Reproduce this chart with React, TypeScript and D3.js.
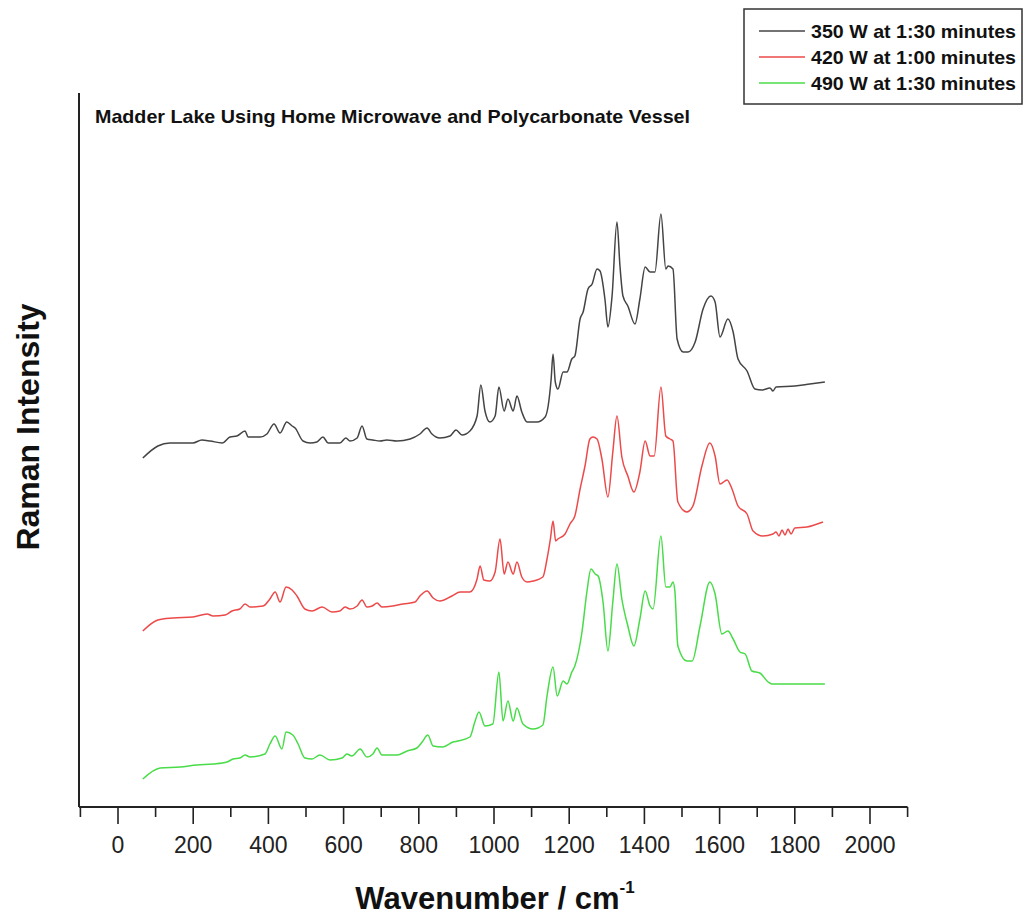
import React from "react";
import * as d3 from "d3";

// Raman spectra (wavenumber cm^-1, intensity a.u. including the stacking offset)
const series350: [number, number][] = [
  [66, 349], [106, 361], [138, 364], [199, 364], [223, 367], [245, 366], [277, 364], [298, 370],
  [316, 371], [338, 376], [346, 370], [378, 370], [396, 373], [415, 383], [431, 374], [449, 385],
  [463, 381], [471, 379], [492, 366], [511, 364], [529, 365], [545, 370], [559, 364], [590, 364],
  [606, 369], [617, 366], [636, 369], [649, 381], [662, 368], [678, 367], [697, 366], [715, 367],
  [742, 366], [777, 368], [803, 373], [822, 379], [835, 373], [856, 369], [883, 371], [899, 377],
  [915, 372], [936, 376], [955, 391], [965, 422], [976, 396], [989, 385], [1003, 391], [1013, 420],
  [1027, 396], [1037, 408], [1051, 396], [1061, 411], [1074, 395], [1088, 385], [1114, 385],
  [1136, 390], [1144, 401], [1152, 428], [1157, 453], [1163, 425], [1170, 418], [1184, 435],
  [1194, 435], [1207, 448], [1215, 451], [1229, 488], [1237, 495], [1250, 518], [1261, 523],
  [1274, 538], [1282, 536], [1295, 508], [1303, 480], [1314, 511], [1327, 585], [1335, 541],
  [1343, 511], [1356, 501], [1375, 483], [1388, 508], [1402, 540], [1415, 535], [1428, 535],
  [1444, 593], [1457, 538], [1463, 541], [1476, 538], [1487, 468], [1503, 455], [1516, 455],
  [1535, 465], [1556, 498], [1577, 511], [1588, 505], [1601, 470], [1622, 488], [1636, 475],
  [1649, 448], [1673, 436], [1694, 418], [1713, 417], [1734, 419], [1742, 416], [1750, 420],
  [1800, 421], [1840, 423], [1880, 425],
];

const series420: [number, number][] = [
  [66, 176], [106, 187], [146, 189], [199, 190], [237, 193], [253, 191], [285, 192], [303, 196],
  [324, 198], [338, 203], [351, 200], [386, 201], [404, 208], [418, 215], [431, 205], [447, 220],
  [463, 217], [476, 211], [497, 198], [516, 196], [543, 200], [569, 195], [590, 196], [604, 200],
  [617, 198], [636, 201], [649, 207], [662, 200], [676, 201], [689, 204], [702, 200], [731, 201],
  [758, 203], [790, 205], [803, 211], [822, 216], [838, 209], [856, 206], [888, 211], [910, 215],
  [936, 215], [955, 228], [963, 241], [973, 227], [989, 226], [1003, 235], [1016, 268],
  [1027, 233], [1037, 245], [1051, 233], [1061, 245], [1074, 230], [1088, 225], [1104, 226],
  [1130, 230], [1141, 248], [1150, 268], [1157, 286], [1164, 266], [1170, 268], [1189, 273],
  [1202, 283], [1215, 291], [1229, 318], [1242, 341], [1255, 368], [1263, 370], [1274, 368],
  [1287, 348], [1303, 310], [1316, 355], [1327, 391], [1340, 350], [1356, 331], [1372, 315],
  [1388, 335], [1402, 366], [1415, 351], [1426, 351], [1444, 420], [1457, 371], [1468, 368],
  [1476, 366], [1489, 305], [1513, 295], [1529, 301], [1553, 341], [1574, 364], [1588, 351],
  [1601, 323], [1620, 327], [1633, 318], [1649, 301], [1673, 293], [1689, 276], [1715, 271],
  [1742, 273], [1750, 275], [1758, 271], [1766, 277], [1774, 272], [1782, 278], [1790, 273],
  [1800, 279], [1832, 280], [1875, 285],
];

const series490: [number, number][] = [
  [66, 28], [112, 39], [165, 40], [210, 42], [253, 43], [290, 45], [306, 48], [324, 49],
  [338, 52], [351, 50], [391, 53], [404, 63], [418, 71], [436, 58], [447, 75], [465, 72],
  [479, 63], [497, 49], [516, 48], [537, 52], [564, 47], [596, 49], [609, 53], [622, 51],
  [644, 58], [662, 50], [678, 53], [689, 59], [702, 52], [742, 52], [769, 56], [795, 59],
  [809, 65], [824, 72], [838, 61], [864, 60], [891, 65], [904, 66], [936, 70], [949, 85],
  [960, 95], [976, 81], [997, 83], [1013, 135], [1024, 86], [1037, 106], [1051, 86], [1061, 99],
  [1077, 83], [1104, 78], [1130, 82], [1141, 111], [1157, 140], [1168, 111], [1184, 126],
  [1194, 123], [1207, 135], [1215, 141], [1234, 175], [1247, 215], [1258, 238], [1269, 233],
  [1277, 231], [1290, 205], [1303, 156], [1316, 205], [1327, 243], [1340, 208], [1356, 181],
  [1372, 161], [1388, 188], [1402, 216], [1415, 201], [1423, 198], [1444, 271], [1457, 220],
  [1468, 220], [1476, 225], [1481, 216], [1489, 161], [1513, 146], [1527, 146], [1548, 181],
  [1574, 225], [1588, 213], [1606, 173], [1622, 176], [1636, 168], [1654, 155], [1668, 153],
  [1686, 136], [1707, 134], [1729, 125], [1739, 123], [1880, 123],
];

const seriesNames = ["350 W at 1:30 minutes", "420 W at 1:00 minutes", "490 W at 1:30 minutes"];
const seriesColors = ["#444444", "#ec4a4a", "#48dc48"];
const allSeries = [series350, series420, series490];

const majorTicks = [0, 200, 400, 600, 800, 1000, 1200, 1400, 1600, 1800, 2000];
const minorTicks = [-100, 100, 300, 500, 700, 900, 1100, 1300, 1500, 1700, 1900, 2100];

const chartTitle = "Madder Lake Using Home Microwave and Polycarbonate Vessel";
const xTitle = "Wavenumber / cm";
const yTitle = "Raman Intensity";

export default function App() {
  const W = 1027;
  const H = 917;
  const x = d3.scaleLinear().domain([-100, 2100]).range([79, 907.6]);
  const xs = d3.scaleLinear().domain([0, 2000]).range([118, 870]);
  const y = d3.scaleLinear().domain([0, 714]).range([807, 93]);
  const line = d3
    .line<[number, number]>()
    .x((d) => xs(d[0]))
    .y((d) => y(d[1]))
    .curve(d3.curveMonotoneX);

  const axisY = y(0);
  const font = "'Liberation Sans', Arial, Helvetica, sans-serif";

  return (
    <svg
      width={W}
      height={H}
      style={{ position: "absolute", left: 0, top: 0, background: "#fff" }}
      fontFamily={font}
    >
      {/* axes */}
      <line x1={x(-100)} x2={x(-100)} y1={y(714)} y2={axisY} stroke="#222" strokeWidth={2} />
      <line x1={x(-100)} x2={x(2100)} y1={axisY} y2={axisY} stroke="#222" strokeWidth={2} />
      {majorTicks.map((t) => (
        <g key={"M" + t}>
          <line x1={xs(t)} x2={xs(t)} y1={axisY} y2={axisY + 17} stroke="#222" strokeWidth={1.6} />
          <text x={xs(t)} y={axisY + 46} textAnchor="middle" fontSize={23} fill="#222">
            {t}
          </text>
        </g>
      ))}
      {minorTicks.map((t) => (
        <line key={"m" + t} x1={xs(t)} x2={xs(t)} y1={axisY} y2={axisY + 10} stroke="#222" strokeWidth={1.6} />
      ))}

      {/* spectra */}
      {allSeries.map((s, i) => (
        <path key={i} d={line(s) || ""} fill="none" stroke={seriesColors[i]} strokeWidth={1.5} strokeLinejoin="round" />
      ))}

      {/* title */}
      <text x={95} y={123} fontSize={19} fontWeight="bold" fill="#111" textLength={595} lengthAdjust="spacingAndGlyphs">
        {chartTitle}
      </text>

      {/* axis titles */}
      <text x={495} y={909} textAnchor="middle" fontSize={31} fontWeight="bold" fill="#111">
        {xTitle}
        <tspan fontSize={17} dy={-16}>-1</tspan>
      </text>
      <text
        transform={`translate(39, 427) rotate(-90)`}
        textAnchor="middle"
        fontSize={32}
        fontWeight="bold"
        fill="#111"
      >
        {yTitle}
      </text>

      {/* legend */}
      <rect x={744} y={9} width={278} height={95} fill="#fff" stroke="#333" strokeWidth={1.5} />
      {seriesNames.map((n, i) => (
        <g key={n}>
          <line x1={759} x2={805} y1={31 + i * 26} y2={31 + i * 26} stroke={seriesColors[i]} strokeWidth={1.5} />
          <text x={811} y={38 + i * 26} fontSize={19} fontWeight="bold" fill="#111" textLength={205} lengthAdjust="spacingAndGlyphs">
            {n}
          </text>
        </g>
      ))}
    </svg>
  );
}
